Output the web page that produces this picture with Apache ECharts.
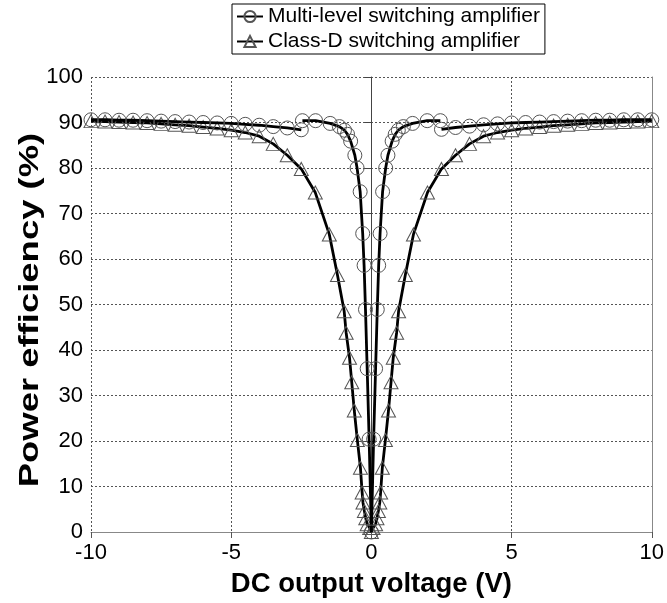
<!DOCTYPE html>
<html><head><meta charset="utf-8">
<script src="https://cdn.jsdelivr.net/npm/echarts@6/dist/echarts.min.js"></script>
<style>html,body{margin:0;padding:0;background:#fff}#c{width:667px;height:603px}</style>
</head><body><div id="c"></div>
<script>
// Multi-level switching amplifier: outer left, inner, outer right
var mlLeftV  = [-10,-9.5,-9,-8.5,-8,-7.5,-7,-6.5,-6,-5.5,-5,-4.5,-4,-3.5,-3,-2.5];
var mlLeftE  = [90.6,90.6,90.5,90.5,90.4,90.3,90.2,90.1,90.0,89.9,89.8,89.6,89.4,89.1,88.8,88.4];
var mlInnerV = [-2.46,-1.99,-1.47,-1.14,-0.96,-0.85,-0.74,-0.59,-0.51,-0.40,-0.31,-0.26,-0.21,-0.15,-0.08,0,0.08,0.15,0.21,0.26,0.31,0.40,0.51,0.59,0.74,0.85,0.96,1.14,1.47,1.99,2.46];
var mlInnerE = [90.4,90.4,89.8,89.1,88.3,87.4,85.9,82.8,80.0,74.8,65.6,58.6,48.9,35.9,20.4,0,20.4,35.9,48.9,58.6,65.6,74.8,80.0,82.8,85.9,87.4,88.3,89.1,89.8,90.4,90.4];
var mlRightV = [2.5,3,3.5,4,4.5,5,5.5,6,6.5,7,7.5,8,8.5,9,9.5,10];
var mlRightE = [88.5,88.9,89.2,89.5,89.7,89.9,90.0,90.1,90.2,90.3,90.4,90.5,90.5,90.6,90.6,90.6];
// Class-D switching amplifier
var cdV = [-10,-9.5,-9,-8.5,-8,-7.5,-7,-6.5,-6,-5.5,-5,-4.5,-4,-3.5,-3,-2.5,-2,-1.5,-1.21,-0.97,-0.9,-0.78,-0.7,-0.61,-0.5,-0.39,-0.33,-0.3,-0.25,-0.2,-0.15,-0.06,0,0.06,0.15,0.2,0.25,0.3,0.33,0.39,0.5,0.61,0.7,0.78,0.9,0.97,1.21,1.5,2,2.5,3,3.5,4,4.5,5,5.5,6,6.5,7,7.5,8,8.5,9,9.5,10];
var cdE = [90.3,90.2,90.1,90.0,89.9,89.7,89.5,89.3,89.0,88.7,88.3,87.8,87.0,85.3,82.8,79.8,74.6,65.4,56.5,48.5,43.8,38.3,32.9,26.7,20.2,14.1,8.7,6.5,4.6,3.0,1.7,0.9,0,0.9,1.7,3.0,4.6,6.5,8.7,14.1,20.2,26.7,32.9,38.3,43.8,48.5,56.5,65.4,74.6,79.8,82.8,85.3,87.0,87.8,88.3,88.7,89.0,89.3,89.5,89.7,89.9,90.0,90.1,90.2,90.3];
var xTicks = [-10,-5,0,5,10];
var yTicks = [0,10,20,30,40,50,60,70,80,90,100];
var nameML = 'Multi-level switching amplifier';
var nameCD = 'Class-D switching amplifier';
var xTitle = 'DC output voltage (V)';
var yTitle = 'Power efficiency (%)';

function zip(a,b){return a.map(function(v,i){return [v,b[i]];});}
var font = '"Liberation Sans", Arial, sans-serif';
var mlStyle = {
  type:'line', name:nameML, symbol:'circle', symbolSize:14,
  itemStyle:{color:'rgba(255,255,255,0)', borderColor:'#555', borderWidth:1},
  lineStyle:{color:'#000', width:2.8}, z:3
};
function ml(d){return Object.assign({}, mlStyle, {data:d});}
var chart = echarts.init(document.getElementById('c'));
chart.setOption({
  animation:false,
  backgroundColor:'#fff',
  grid:{left:91, right:10, top:77, bottom:66},
  legend:{
    orient:'vertical', left:232, top:4, padding:[2,5,2,4], itemGap:4,
    borderColor:'#000', borderWidth:1, itemWidth:26, itemHeight:14,
    textStyle:{fontFamily:font, fontSize:21, color:'#000'},
    data:[nameML, nameCD]
  },
  graphic:[{
    type:'text', x:31, y:310, rotation:Math.PI/2, scaleX:1.35, scaleY:1.0,
    style:{text:yTitle, font:'bold 27px ' + font, fill:'#000', textAlign:'center', textVerticalAlign:'middle'}
  }],
  xAxis:{
    type:'value', min:xTicks[0], max:xTicks[xTicks.length-1], interval:5,
    name:xTitle, nameLocation:'middle', nameGap:38,
    nameTextStyle:{fontFamily:font, fontSize:27.5, fontWeight:'bold', color:'#000'},
    axisLine:{show:true, onZero:false, lineStyle:{color:'#888', width:1}},
    axisTick:{show:true, length:6, lineStyle:{color:'#555'}},
    axisLabel:{fontFamily:font, fontSize:22, color:'#000', margin:10},
    splitLine:{show:true, lineStyle:{color:'#555', type:[2,2], width:1}}
  },
  yAxis:[{
    type:'value', min:yTicks[0], max:yTicks[yTicks.length-1], interval:10,
    axisLine:{show:true, lineStyle:{color:'#444', width:1}},
    axisTick:{show:true, length:7, lineStyle:{color:'#444'}},
    axisLabel:{fontFamily:font, fontSize:22, color:'#000', margin:8},
    splitLine:{show:true, lineStyle:{color:'#555', type:[2,2], width:1}}
  },{
    type:'value', min:0, max:100, position:'right',
    axisLine:{show:true, lineStyle:{color:'#888', width:1}},
    axisTick:{show:false}, axisLabel:{show:false}, splitLine:{show:false}
  }],
  series:[
    ml(zip(mlLeftV, mlLeftE)),
    ml(zip(mlInnerV, mlInnerE)),
    ml(zip(mlRightV, mlRightE)),
    {type:'line', name:nameCD, symbol:'triangle', symbolSize:[14,13],
     itemStyle:{color:'rgba(255,255,255,0)', borderColor:'#555', borderWidth:1},
     lineStyle:{color:'#000', width:2.8}, data:zip(cdV, cdE), z:2}
  ]
});
</script></body></html>
